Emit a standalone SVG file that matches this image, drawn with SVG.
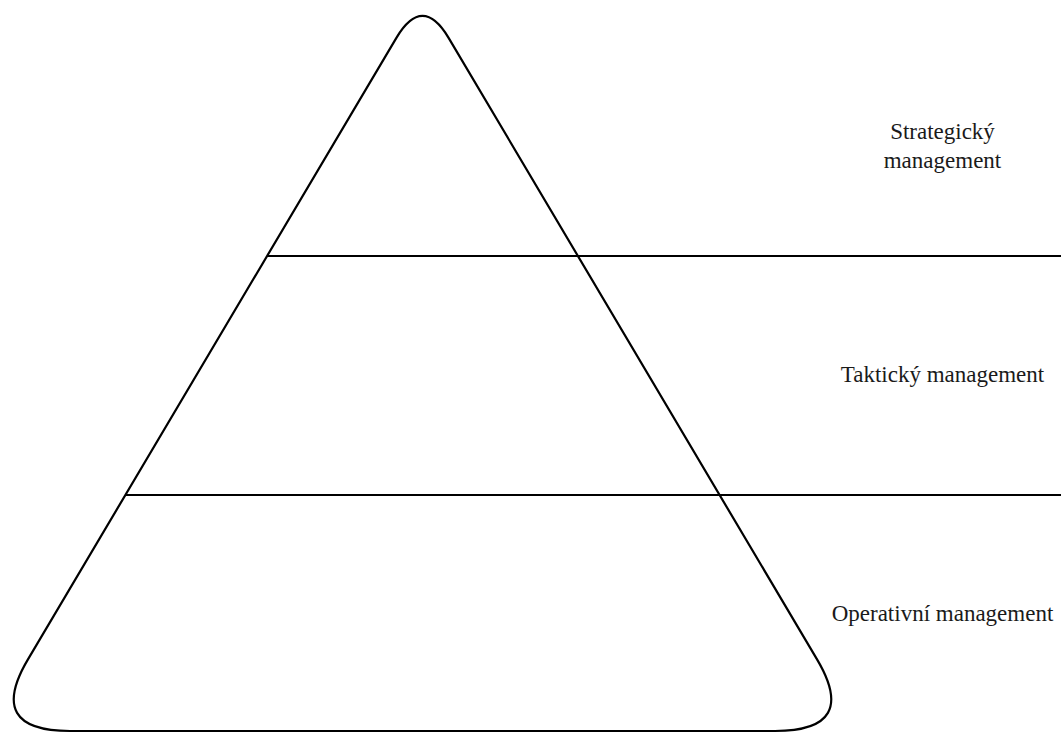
<svg xmlns="http://www.w3.org/2000/svg" width="1061" height="733" viewBox="0 0 1061 733">
<style>
.shape{fill:#fff;stroke:#000;stroke-width:2.2}
.ln{fill:none;stroke:#000;stroke-width:2.2}
.lbl{font-family:"Liberation Serif","Times New Roman",serif;font-size:23px;fill:#1a1a1a;text-anchor:middle}
</style>
<rect width="1061" height="733" fill="#fff"/>
<g id="pyramid">
<path class="shape" d="M396.4,37.9 Q422.5,-6 448.6,37.9 L816.6,658.6 Q860,731 775,731 L70,731 Q-15,731 28.4,658.6 Z"/>
</g>
<g id="connectors">
<line class="ln" x1="267" y1="256" x2="1061" y2="256"/>
<line class="ln" x1="125" y1="495" x2="1061" y2="495"/>
</g>
<g id="strategic">
<text class="lbl" x="942.5" y="139">Strategický</text>
<text class="lbl" x="942.5" y="168">management</text>
</g>
<g id="tactical">
<text class="lbl" x="942.5" y="382">Taktický management</text>
</g>
<g id="operative">
<text class="lbl" x="942.5" y="621">Operativní management</text>
</g>
</svg>
